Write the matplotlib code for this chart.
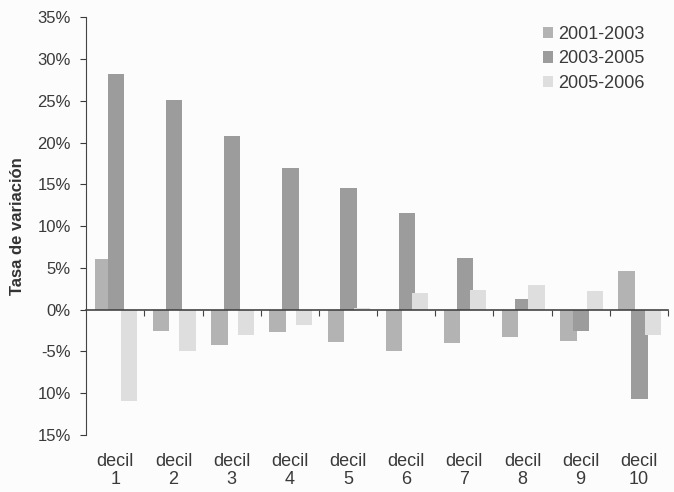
import numpy as np
import matplotlib.pyplot as plt

plt.rcParams["font.family"] = ["Liberation Sans", "DejaVu Sans"]

deciles = ["decil\n1", "decil\n2", "decil\n3", "decil\n4", "decil\n5",
           "decil\n6", "decil\n7", "decil\n8", "decil\n9", "decil\n10"]
s_2001_2003 = [6.0, -2.5, -4.2, -2.7, -3.9, -5.0, -4.0, -3.3, -3.7, 4.6]
s_2003_2005 = [28.2, 25.1, 20.8, 17.0, 14.5, 11.6, 6.2, 1.3, -2.6, -10.7]
s_2005_2006 = [-10.9, -5.0, -3.0, -1.9, 0.2, 2.0, 2.4, 3.0, 2.2, -3.0]
series_names = ["2001-2003", "2003-2005", "2005-2006"]
yticks = [35, 30, 25, 20, 15, 10, 5, 0, -5, -10, -15]
ytick_labels = ["35%", "30%", "25%", "20%", "15%", "10%", "5%", "0%", "-5%", "10%", "15%"]

colors = ["#b3b3b3", "#9c9c9c", "#dedede"]
offsets = [-0.21, 0.01, 0.24]
width = 0.28
txt = "#3a3a3a"

fig = plt.figure(figsize=(6.74, 4.92), dpi=100, facecolor="#fcfcfc")
ax = fig.add_axes([0.128, 0.116, 0.863, 0.849])
ax.set_facecolor("#fcfcfc")

x = np.arange(len(deciles))
for vals, off, c, name in zip([s_2001_2003, s_2003_2005, s_2005_2006], offsets, colors, series_names):
    ax.bar(x + off, vals, width, color=c, label=name, edgecolor="none")

ax.set_xlim(-0.5, 9.5)
ax.set_ylim(-15, 35)
ax.set_yticks(yticks)
ax.set_yticklabels(ytick_labels, fontsize=12, color=txt)
ax.tick_params(axis="y", length=4, color=txt, pad=7)

ax.spines["top"].set_visible(False)
ax.spines["right"].set_visible(False)
ax.spines["left"].set_color("#444444")
ax.spines["bottom"].set_position(("data", 0))
ax.spines["bottom"].set_color("#444444")
ax.spines["bottom"].set_linewidth(1.2)
ax.set_xticks(x + 0.5)
ax.set_xticklabels([])
ax.tick_params(axis="x", length=4, color="#444444", direction="out")

sec = ax.secondary_xaxis("bottom")
sec.set_xticks(x)
sec.set_xticklabels(deciles, fontsize=13, color=txt, linespacing=1.1)
sec.tick_params(length=0, pad=13)
sec.spines["bottom"].set_visible(False)

ax.set_ylabel("Tasa de variación", fontsize=12, fontweight="bold", color="#333333")
ax.yaxis.set_label_coords(-0.106, 0.5)

leg = ax.legend(loc="upper right", bbox_to_anchor=(0.972, 0.997), frameon=False,
                fontsize=13, handlelength=0.6, handleheight=0.6, handletextpad=0.25,
                labelspacing=0.42, labelcolor=txt, borderaxespad=0)

fig.savefig("out.png", dpi=100, facecolor=fig.get_facecolor())
